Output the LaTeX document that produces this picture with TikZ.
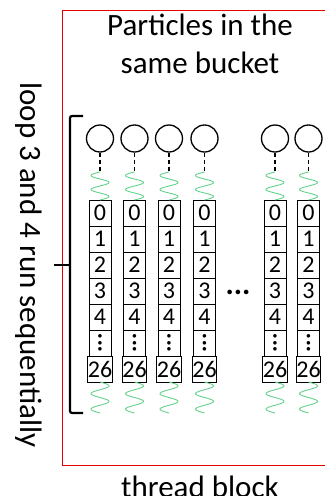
\documentclass[tikz,border=0pt]{standalone}
\usepackage{fontspec}
\usepackage{graphicx}
\setmainfont{Carlito}
\usetikzlibrary{positioning}
\definecolor{springgreen}{RGB}{100,210,140}
\definecolor{boxred}{RGB}{230,0,0}
\newcommand{\coldots}{\rotatebox{90}{\bfseries ...}}

\begin{document}
\begin{tikzpicture}[x=1pt,y=-1pt,
  particle/.style={circle,draw,line width=1.3pt,minimum size=27pt,inner sep=0pt},
  cell/.style={draw,line width=1pt,minimum width=22pt,minimum height=26pt,inner sep=0pt,font=\fontsize{24}{24}\selectfont},
  link/.style={line width=1.3pt,dash pattern=on 4pt off 3pt},
  spring/.style={springgreen,line width=0.9pt,samples=60,variable=\t},
  bigtext/.style={font=\fontsize{31}{38}\selectfont,align=center}]
  \useasboundingbox (0,0) rectangle (325,496);
  \draw[boxred] (325,10) -- (62,10) -- (62,465) -- (325,465);
  \node[bigtext] (title) at (200,44) {Particles in the\\same bucket};
  \node[bigtext] (block) at (200,487) {thread block};
  \node[bigtext,rotate=-90] (loop) at (29,265) {loop 3 and 4 run sequentially};
  % one column per particle: rows 0..4, dots, 26
  \foreach \i/\x in {1/100,2/134.5,3/169,4/204.5,5/275,6/308.5}{
    \node[particle] (p\i) at (\x,138.5) {};
    \coordinate (s\i) at (\x,172);
    \foreach \r/\lab in {0/0,1/1,2/2,3/3,4/4,5/\coldots,6/26}
      \node[cell] (c\i-\r) at (\x,213+26*\r) {\lab};
    \coordinate (e\i) at (\x,413);
    \draw[link] (p\i) -- (s\i);
    % springs above and below the column, two waves each
    \draw[spring,domain=0:28] plot ({\x-9*sin(\t*360/14)},{172+\t});
    \draw[spring,domain=0:31] plot ({\x+9*sin(\t*360/15.5)},{382+\t});
  }
  \node[font=\fontsize{31}{31}\selectfont\bfseries] (dots) at (238,292) {...};
  \draw[line width=2.2pt,rounded corners=2pt] (83,116) -- (70,116) -- (70,413) -- (83,413);
  \draw[line width=2.2pt] (70,265) -- (54,265);
\end{tikzpicture}
\end{document}
